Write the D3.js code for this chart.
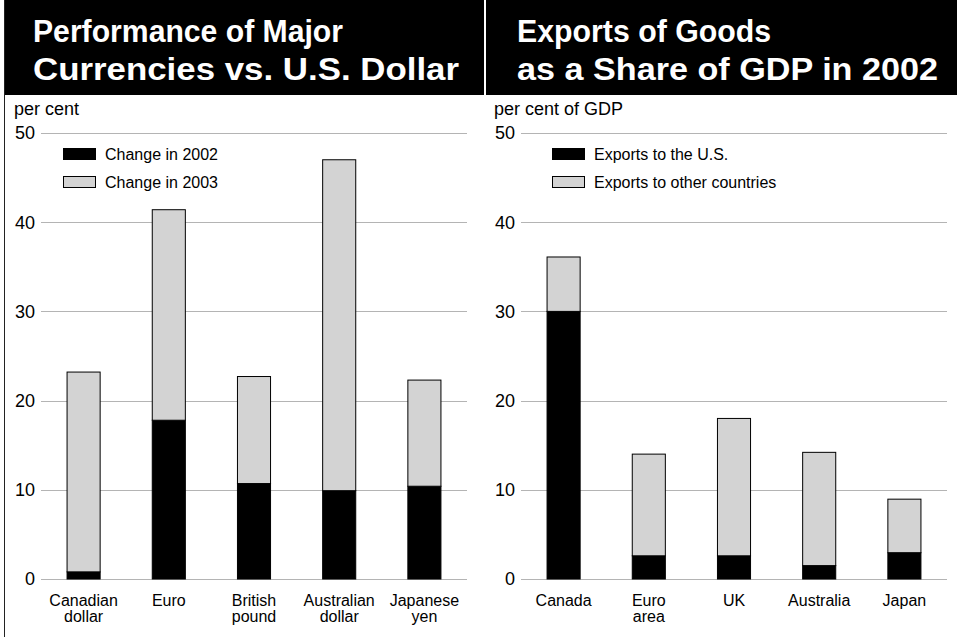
<!DOCTYPE html>
<html>
<head>
<meta charset="utf-8">
<script src="https://cdn.jsdelivr.net/npm/d3@7/dist/d3.min.js"></script>
<style>
  html, body { margin: 0; padding: 0; background: #fff; }
  svg { display: block; font-family: "Liberation Sans", Arial, Helvetica, sans-serif; }
</style>
</head>
<body>
<svg id="chart" width="959" height="637"></svg>
<script>
// ---- Data ----
const currencyCategories = ["Canadian\ndollar", "Euro", "British\npound", "Australian\ndollar", "Japanese\nyen"];
const change2002 = [0.8, 17.8, 10.7, 9.9, 10.4];
const change2003 = [22.4, 23.6, 12.0, 37.1, 11.9];

const exportCategories = ["Canada", "Euro\narea", "UK", "Australia", "Japan"];
const exportsToUS = [30.0, 2.6, 2.6, 1.5, 2.95];
const exportsToOthers = [6.1, 11.4, 15.4, 12.7, 6.0];

const yTicks = [0, 10, 20, 30, 40, 50];

const panels = [
  {
    ox: 0,
    title: ["Performance of Major", "Currencies vs. U.S. Dollar"],
    titleWidths: [310, 426],
    unit: "per cent",
    cats: currencyCategories,
    s1: change2002, s2: change2003,
    legend: ["Change in 2002", "Change in 2003"]
  },
  {
    ox: 480,
    title: ["Exports of Goods", "as a Share of GDP in 2002"],
    titleWidths: [254, 421],
    unit: "per cent of GDP",
    cats: exportCategories,
    s1: exportsToUS, s2: exportsToOthers,
    legend: ["Exports to the U.S.", "Exports to other countries"]
  }
];

const svg = d3.select("#chart");
const DARK = "#000";
const LIGHT = "#d3d3d3";

// left frame line
svg.append("line").attr("x1", 4.5).attr("x2", 4.5).attr("y1", 0).attr("y2", 637)
  .attr("stroke", "#222").attr("stroke-width", 1);

panels.forEach((p, pi) => {
  const g = svg.append("g").attr("transform", `translate(${p.ox},0)`);

  // header
  g.append("rect")
    .attr("x", pi === 0 ? 5 : 6).attr("y", 0)
    .attr("width", pi === 0 ? 479 : 471).attr("height", 95)
    .attr("fill", "#000");
  g.selectAll("text.title").data(p.title).join("text")
    .attr("class", "title")
    .attr("x", pi === 0 ? 33 : 37)
    .attr("y", (d, i) => 42 + i * 38)
    .attr("fill", "#fff")
    .attr("font-size", 32)
    .attr("font-weight", "bold")
    .attr("textLength", (d, i) => p.titleWidths[i])
    .attr("lengthAdjust", "spacingAndGlyphs")
    .text(d => d);

  const idx = d3.range(p.cats.length);
  const x = d3.scaleBand().domain(idx).range([41, 467]).paddingInner(0.6).paddingOuter(0.3);
  const y = d3.scaleLinear().domain([0, 50]).range([579, 133]);

  // unit label
  g.append("text").attr("x", 14).attr("y", 115).attr("font-size", 18).attr("fill", "#000").text(p.unit);

  // grid + y axis
  const yAxis = d3.axisLeft(y).tickValues(yTicks).tickSize(0).tickPadding(0).tickFormat(d3.format("d"));
  const ga = g.append("g").attr("transform", "translate(35,0)").call(yAxis);
  ga.select(".domain").remove();
  ga.selectAll("text").attr("font-size", 18).attr("fill", "#000")
    .attr("font-family", "Liberation Sans, Arial, sans-serif").attr("dy", "0.33em");

  g.selectAll("line.grid").data(yTicks).join("line")
    .attr("class", "grid")
    .attr("x1", 41).attr("x2", 467)
    .attr("y1", d => Math.round(y(d)) + 0.5).attr("y2", d => Math.round(y(d)) + 0.5)
    .attr("stroke", "#b4b4b4").attr("stroke-width", 1);

  // stacked bars
  const rows = idx.map(i => ({ i, a: p.s1[i], b: p.s2[i] }));
  const stack = d3.stack().keys(["a", "b"])(rows);
  const fills = [DARK, LIGHT];
  stack.forEach((layer, li) => {
    g.selectAll(`rect.s${li}`).data(layer).join("rect")
      .attr("class", `s${li}`)
      .attr("x", d => x(d.data.i) + 0.5)
      .attr("width", x.bandwidth() - 1)
      .attr("y", d => y(d[1]))
      .attr("height", d => y(d[0]) - y(d[1]))
      .attr("fill", fills[li])
      .attr("stroke", "#000").attr("stroke-width", 1);
  });

  // category labels
  const xl = g.selectAll("text.cat").data(idx).join("text")
    .attr("class", "cat")
    .attr("text-anchor", "middle")
    .attr("font-size", 16)
    .attr("fill", "#000")
    .attr("transform", i => `translate(${x(i) + x.bandwidth() / 2},606)`);
  xl.selectAll("tspan").data(i => p.cats[i].split("\n")).join("tspan")
    .attr("x", 0).attr("y", (d, k) => k * 16).text(d => d);

  // legend
  const lg = g.append("g");
  p.legend.forEach((lab, k) => {
    const yy = 148 + k * 28;
    lg.append("rect")
      .attr("x", pi === 0 ? 63.5 : 72.5).attr("y", yy + 0.5)
      .attr("width", 32).attr("height", 11)
      .attr("fill", fills[k]).attr("stroke", "#000").attr("stroke-width", 1);
    lg.append("text")
      .attr("x", pi === 0 ? 105 : 114).attr("y", yy + 12)
      .attr("font-size", 16).attr("fill", "#000").text(lab);
  });
});
</script>
</body>
</html>
